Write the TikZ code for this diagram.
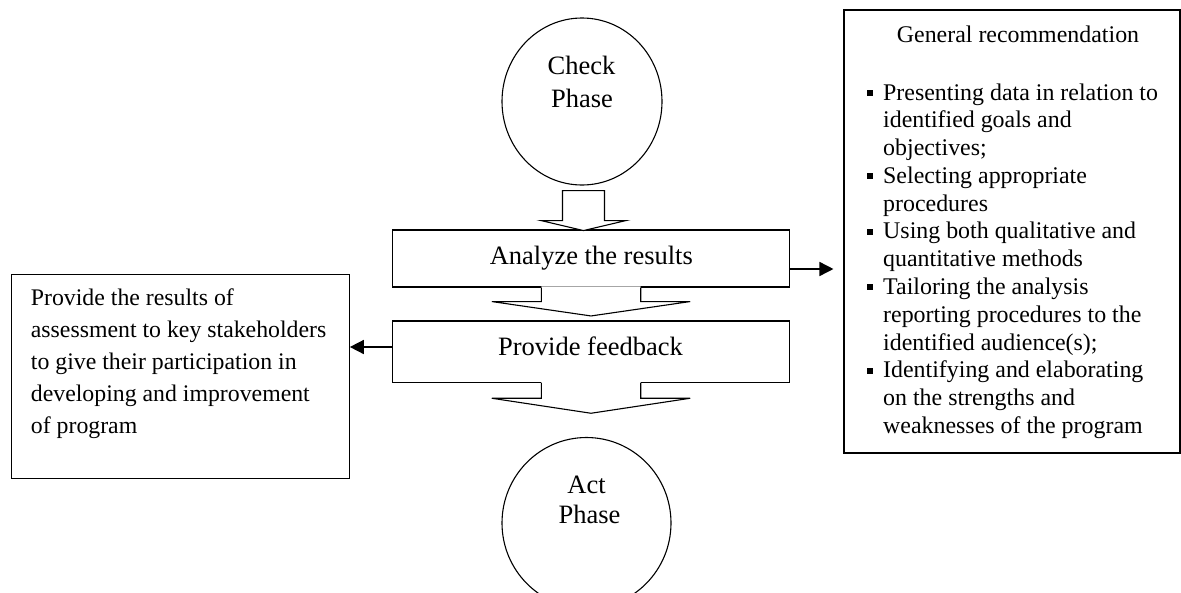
\documentclass[tikz,border=0pt]{standalone}
\usepackage{fontspec}
\setmainfont{Liberation Serif}
\usetikzlibrary{arrows.meta,shapes.geometric}

\tikzset{
  blk/.style={draw=black, line width=1.1pt, line join=miter},
  % downward block arrow: stem half width, head half width, stem length, head length
  pics/blockdown/.style n args={4}{code={
    \fill[white] (-#1,-1.2) -- (-#1,#3) -- (-#2,#3) -- (0,{#3+#4}) -- (#2,#3) -- (#1,#3) -- (#1,-1.2) -- cycle;
    \draw[blk] (-#1,0) -- (-#1,#3) -- (-#2,#3) -- (0,{#3+#4}) -- (#2,#3) -- (#1,#3) -- (#1,0);
  }},
  pics/blockdowncap/.style n args={4}{code={
    \draw[blk, fill=white] (-#1,0) -- (-#1,#3) -- (-#2,#3) -- (0,{#3+#4}) -- (#2,#3) -- (#1,#3) -- (#1,0) -- cycle;
  }},
}

\begin{document}
\begin{tikzpicture}[x=1pt,y=-1pt,
  outline/.style={draw=black, line width=1.1pt},
  phase/.style={outline, ellipse, inner sep=0pt, fill=white},
  stagebox/.style={outline, rectangle, inner sep=0pt, fill=white},
  note/.style={outline, rectangle, inner sep=0pt},
  conn/.style={line width=1.6pt, -{Triangle[length=14pt,width=14pt]}},
  maintext/.style={font=\fontsize{26.5}{32}\selectfont, inner sep=0pt, anchor=base},
  lefttext/.style={font=\fontsize{23.8}{32}\selectfont, inner sep=0pt, anchor=base west},
  righttext/.style={font=\fontsize{23.9}{27.8}\selectfont, inner sep=0pt, anchor=base west},
  titletext/.style={font=\fontsize{23.9}{27.8}\selectfont, inner sep=0pt, anchor=base},
  bulletmark/.style={fill=black, rectangle, minimum size=6pt, inner sep=0pt},
]
\useasboundingbox (0,0) rectangle (1181,592);
\clip (0,0) rectangle (1181,592);

% phases
\node[phase, minimum width=160pt, minimum height=167pt] (check) at (582,101.5) {};
\node[phase, minimum width=169pt, minimum height=171pt] (act) at (586.5,523) {};

% process steps
\node[stagebox, minimum width=396.6pt, minimum height=57pt] (ana) at (591,258.5) {};
\node[stagebox, minimum width=396.6pt, minimum height=61.6pt] (fb) at (591,351.8) {};

% side notes
\node[note, minimum width=337.6pt, minimum height=204.3pt] (lbox) at (180.5,376.2) {};
\node[note, minimum width=336pt, minimum height=443pt] (rbox) at (1012,231.5) {};

% block arrows between the stages
\pic at ([xshift=1.5pt,yshift=-5pt]check.south) {blockdowncap={21}{42.5}{30}{10}};
\pic at (ana.south) {blockdown={49.7}{99.2}{14}{14.4}};
\pic at (fb.south) {blockdown={49.7}{99.2}{15.1}{15}};

% side connectors
\coordinate (rin) at ([xshift=-10pt]rbox.west);
\draw[conn] ([yshift=-10.5pt]ana.east) -- ([yshift=-10.5pt]ana.east -| rin);
\draw[conn] ([yshift=4.8pt]fb.west) -- ([yshift=4.8pt]fb.west -| lbox.east);

% labels
\node[maintext] (checkA) at (581.5,74.5) {Check};
\node[maintext] (checkB) at (582,107.5) {Phase};
\node[maintext] (actA) at (586.5,493.3) {Act};
\node[maintext] (actB) at (589.5,523.3) {Phase};
\node[maintext] (anaT) at (591.3,264.5) {Analyze the results};
\node[maintext] (fbT) at (590.5,355) {Provide feedback};

% left note text
\foreach \t [count=\i] in {{Provide the results of},{assessment to key stakeholders},{to give their participation in},{developing and improvement},{of program}}
  \node[lefttext] (l\i) at (30.7,{305+32*(\i-1)}) {\t};

% right note text
\node[titletext] (rtitle) at (1018,42) {General recommendation};
\foreach \t [count=\i] in {{Presenting data in relation to},{identified goals and},{objectives;},{Selecting appropriate},{procedures},{Using both qualitative and},{quantitative methods},{Tailoring the analysis},{reporting procedures to the},{identified audience(s);},{Identifying and elaborating},{on the strengths and},{weaknesses of the program}}
  \node[righttext] (r\i) at (883,{100+27.78*(\i-1)}) {\t};
\foreach \k in {1,4,6,8,11}
  \node[bulletmark] (b\k) at (869.7,{93+27.78*(\k-1)}) {};
\end{tikzpicture}
\end{document}
